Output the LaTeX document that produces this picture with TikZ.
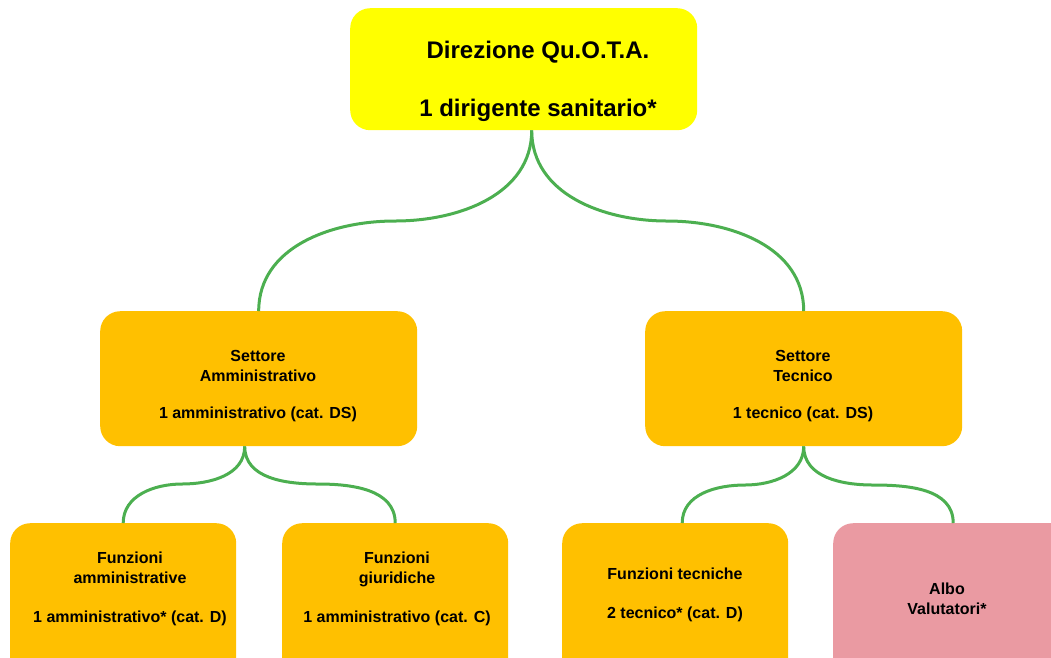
\documentclass[tikz,border=0pt]{standalone}
\usepackage{fontspec}
\setmainfont{Liberation Sans}
\definecolor{topyellow}{HTML}{FFFF00}
\definecolor{boxorange}{HTML}{FFC000}
\definecolor{boxpink}{HTML}{EA9AA2}
\definecolor{linkgreen}{HTML}{4CAF50}
\begin{document}
\begin{tikzpicture}[x=1pt,y=-1pt,
  box/.style={rounded corners=20pt, draw=none, inner sep=0pt, anchor=north west},
  txt/.style={align=center, inner sep=0pt, font=\bfseries\fontsize{16}{20}\selectfont},
  toptxt/.style={align=center, inner sep=0pt, font=\bfseries\fontsize{24}{28}\selectfont},
  link/.style={draw=linkgreen, line width=3pt}]
\useasboundingbox (0,0) rectangle (1051,657);
\clip (0,0) rectangle (1051,657);
% boxes
\node[box, fill=topyellow, minimum width=347pt, minimum height=122pt] (top) at (350,8) {};
\node[box, fill=boxorange, minimum width=317pt, minimum height=135pt] (sa) at (100,311) {};
\node[box, fill=boxorange, minimum width=317pt, minimum height=135pt] (st) at (645,311) {};
\node[box, fill=boxorange, minimum width=226pt, minimum height=170pt] (fa) at (10,523) {};
\node[box, fill=boxorange, minimum width=226pt, minimum height=170pt] (fg) at (282,523) {};
\node[box, fill=boxorange, minimum width=226pt, minimum height=170pt] (ft) at (562,523) {};
\node[box, fill=boxpink, minimum width=240pt, minimum height=170pt] (av) at (833,523) {};
% texts (anchor = baseline of the last line)
\node[toptxt, anchor=base] (toptext) at (538,116) {Direzione Qu.O.T.A.\\[30pt]1 dirigente sanitario*};
\node[txt, anchor=base] (satext) at (258,418) {Settore\\Amministrativo\\[17pt]1 amministrativo (cat. DS)};
\node[txt, anchor=base] (sttext) at (803,418) {Settore\\Tecnico\\[17pt]1 tecnico (cat. DS)};
\node[txt, anchor=base] (fatext) at (130,622) {Funzioni\\amministrative\\[19pt]1 amministrativo* (cat. D)};
\node[txt, anchor=base] (fgtext) at (397,622) {Funzioni\\giuridiche\\[19pt]1 amministrativo (cat. C)};
\node[txt, anchor=base] (fttext) at (675,618) {Funzioni tecniche\\[19pt]2 tecnico* (cat. D)};
\node[txt, anchor=base] (avtext) at (947,614) {Albo\\Valutatori*};
% connectors
\coordinate (m1) at (395,221);
\coordinate (m2) at (667,221);
\coordinate (m3) at (182,484);
\coordinate (m4) at (318,484);
\coordinate (m5) at (745,485);
\coordinate (m6) at (873,485);
\draw[link] ([xshift=8pt]top.south) to[out=-90,in=0] (m1) to[out=180,in=90] (sa.north);
\draw[link] ([xshift=8pt]top.south) to[out=-90,in=180] (m2) to[out=0,in=90] (st.north);
\draw[link] ([xshift=-14pt]sa.south) to[out=-90,in=0] (m3) to[out=180,in=90] (fa.north);
\draw[link] ([xshift=-14pt]sa.south) to[out=-90,in=180] (m4) to[out=0,in=90] (fg.north);
\draw[link] (st.south) to[out=-90,in=0] (m5) to[out=180,in=90] ([xshift=7pt]ft.north);
\draw[link] (st.south) to[out=-90,in=180] (m6) to[out=0,in=90] (av.north);
\end{tikzpicture}
\end{document}
